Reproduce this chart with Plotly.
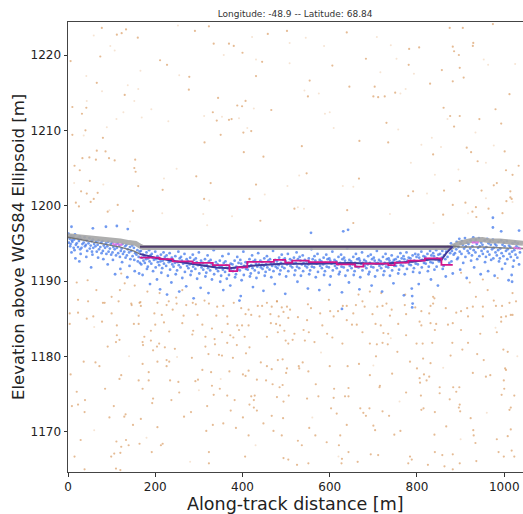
import plotly.graph_objects as go

# ---------------- data ----------------
title_text = "Longitude: -48.9 -- Latitude: 68.84"
x_title = "Along-track distance [m]"
y_title = "Elevation above WGS84 Ellipsoid [m]"
x_ticks = [0, 200, 400, 600, 800, 1000]
y_ticks = [1170, 1180, 1190, 1200, 1210, 1220]

# background (noise) photons, clearly visible
noise_pts = [
    (77.5, 1223.6), (133, 1223.4), (123, 1222.9), (112, 1222.7), (160, 1222.3), (291, 1223.2), (323, 1223.8),
    (458, 1222.8), (502, 1223.2), (334, 1221.5), (369, 1221.5), (380, 1221.2), (400, 1220.3), (74, 1219.8),
    (6, 1219.2), (211, 1219.3), (227, 1218.7), (445, 1219.1), (431, 1217.2), (278, 1217.1), (66, 1216.3),
    (277, 1215.4), (130, 1214.7), (344, 1214.3), (407, 1213.9), (388, 1213.3), (399, 1213.2), (10, 1213.1),
    (42, 1213.0), (466, 1212.7), (332, 1212.4), (32, 1212.2), (369, 1211.4), (375, 1211.5), (341, 1211.3),
    (420, 1209.9), (402, 1209.7), (40, 1210.0), (10, 1209.4), (350, 1209.4), (80, 1209.0), (313, 1208.4),
    (66, 1207.3), (86, 1207.2), (403, 1207.1), (33, 1206.3), (49, 1206.4), (64, 1206.1), (94, 1206.3),
    (107, 1206.0), (154, 1206.1), (448, 1206.5), (15, 1205.3), (152, 1205.0), (27, 1204.7), (155, 1204.5),
    (294, 1203.9), (50, 1203.3), (327, 1203.0), (161, 1202.6), (431, 1202.8), (217, 1202.1), (30, 1201.9),
    (43, 1201.6), (68, 1201.7), (59, 1200.9), (312, 1200.9), (416, 1200.9), (18, 1200.4), (52, 1200.5),
    (25, 1199.9), (114, 1200.1), (91, 1199.2), (149, 1199.3), (441, 1198.0),
    (875, 1223.6), (905, 1223.6), (974, 1224.1), (639, 1223.0), (782, 1220.8), (805, 1221.0), (882, 1221.1),
    (885, 1220.5), (929, 1221.6), (928, 1221.2), (896, 1220.0), (683, 1219.5), (606, 1218.6), (781, 1218.7),
    (898, 1218.3), (857, 1218.0), (907, 1217.0), (554, 1216.6), (830, 1216.2), (882, 1216.5), (645, 1215.8),
    (703, 1215.8), (1012, 1214.8), (550, 1214.5), (700, 1214.5), (711, 1214.4), (726, 1214.5), (750, 1215.0),
    (861, 1213.0), (980, 1212.8), (876, 1211.9), (898, 1211.9), (943, 1211.5), (730, 1211.0), (993, 1210.9),
    (885, 1210.5), (668, 1208.6), (734, 1208.4), (536, 1207.9), (914, 1207.7), (924, 1207.1), (1001, 1207.2),
    (837, 1206.8), (939, 1205.9), (1004, 1204.7), (547, 1204.3), (1019, 1204.1), (1033, 1205.3), (667, 1203.6),
    (898, 1203.3), (983, 1203.0), (976, 1202.7), (862, 1202.0), (791, 1201.9), (948, 1202.0), (1014, 1201.9),
    (780, 1201.3), (1014, 1201.1), (1017, 1200.9), (1005, 1200.6), (911, 1200.4), (882, 1200.1), (935, 1199.8),
    (964, 1199.6), (640, 1199.4), (927, 1199.2), (996, 1199.0), (860, 1198.8), (936, 1198.5), (654, 1197.7),
    (519, 1199.6),
    (122, 1191.0), (130, 1189.7), (45, 1190.1), (20, 1189.8), (65, 1188.8), (119, 1188.8), (100, 1187.9),
    (153, 1189.4), (164, 1187.1), (182, 1188.6), (210, 1188.4), (262, 1188.8), (248, 1187.8), (23, 1187.5),
    (80, 1187.1), (146, 1186.8), (479, 1187.3), (598, 1187.5), (692, 1188.6), (718, 1188.4), (773, 1188.2),
    (837, 1187.9), (666, 1188.2), (901, 1191.1), (951, 1190.2), (985, 1190.4), (921, 1189.8), (962, 1188.8),
    (1019, 1188.4), (840, 1187.7), (935, 1187.9),
    (46, 1187.3), (84, 1187.1), (116, 1187.3), (145, 1187.0), (166, 1187.2), (167, 1186.7), (205, 1187.1),
    (226, 1186.8), (231, 1187.3), (249, 1187.0), (271, 1186.8), (286, 1187.1), (293, 1186.9), (313, 1187.4),
    (323, 1187.0), (342, 1186.6), (356, 1186.7), (380, 1187.1), (397, 1186.4), (414, 1186.2), (435, 1186.7),
    (445, 1186.7), (456, 1187.1), (467, 1186.6), (479, 1187.3), (490, 1186.5), (502, 1186.6), (509, 1186.2),
    (4, 1185.7), (23, 1185.8), (100, 1185.7), (162, 1185.4), (198, 1185.7), (215, 1185.5), (240, 1186.2),
    (265, 1185.4), (297, 1185.5), (340, 1185.4), (365, 1185.3), (407, 1185.6), (420, 1185.5), (439, 1185.3),
    (464, 1185.6), (483, 1185.3), (494, 1185.9), (505, 1185.1), (43, 1185.0), (58, 1185.3), (78, 1184.6),
    (112, 1184.1), (151, 1184.3), (162, 1184.3), (200, 1184.2), (220, 1184.5), (262, 1184.4), (308, 1184.2),
    (366, 1184.3), (388, 1184.1), (399, 1184.1), (414, 1184.1), (465, 1184.4), (477, 1184.3), (486, 1184.1),
    (4, 1184.3), (190, 1183.4), (232, 1183.3), (287, 1183.4), (330, 1183.7), (353, 1183.2), (392, 1183.5),
    (496, 1183.4), (112, 1182.8), (175, 1182.6), (285, 1182.9), (315, 1182.6), (372, 1182.8), (405, 1182.6),
    (456, 1182.6), (481, 1183.2), (118, 1182.2), (110, 1181.9), (171, 1181.9), (190, 1182.1), (336, 1182.3),
    (379, 1182.5), (499, 1182.1), (515, 1182.2), (91, 1181.3), (172, 1181.5), (204, 1181.3), (209, 1181.7),
    (222, 1181.2), (245, 1181.0), (315, 1181.3), (337, 1181.6), (365, 1181.8), (387, 1181.5), (416, 1181.2),
    (505, 1181.7), (195, 1180.8), (408, 1180.4), (322, 1180.3), (346, 1180.2), (353, 1180.1), (378, 1179.8),
    (481, 1179.5), (492, 1179.6), (36, 1179.3), (63, 1179.2), (205, 1179.3), (226, 1179.5), (232, 1179.3),
    (226, 1178.7), (284, 1179.8), (72, 1178.7), (171, 1179.0), (442, 1179.2), (456, 1178.7), (467, 1178.3),
    (308, 1178.2), (370, 1178.0), (414, 1178.1), (502, 1178.4), (500, 1177.8), (6, 1177.6), (122, 1177.5),
    (185, 1177.9), (328, 1177.9), (401, 1177.6), (407, 1177.4), (118, 1177.0), (162, 1176.8), (185, 1176.8),
    (234, 1176.8), (253, 1176.6), (292, 1176.7), (298, 1176.9), (433, 1176.9), (454, 1176.8), (469, 1176.3),
    (330, 1176.1), (348, 1175.7), (492, 1176.2), (485, 1175.9), (85, 1175.7), (171, 1175.7), (20, 1175.3),
    (255, 1175.2), (334, 1174.9), (365, 1174.8), (420, 1174.7), (428, 1174.8), (479, 1174.6), (506, 1174.8),
    (39, 1174.2), (195, 1174.4), (193, 1173.8), (237, 1174.2), (382, 1174.2), (426, 1174.2), (426, 1173.2),
    (494, 1174.0), (23, 1173.6), (9, 1173.4), (105, 1173.4), (319, 1173.4), (416, 1173.6), (433, 1172.8),
    (38, 1172.6), (282, 1172.6), (373, 1172.8), (132, 1172.3), (129, 1172.0), (95, 1171.9), (167, 1171.7),
    (266, 1172.0), (401, 1171.9), (467, 1172.1), (493, 1171.8), (356, 1171.1), (149, 1170.9), (205, 1170.6),
    (332, 1170.9), (448, 1171.1), (385, 1170.5), (29, 1168.9), (111, 1168.7), (133, 1168.9), (139, 1168.2),
    (164, 1168.4), (213, 1168.2), (217, 1168.4), (122, 1168.0), (414, 1169.5), (471, 1170.1), (490, 1169.5),
    (317, 1170.1), (15, 1166.7), (99, 1166.7), (106, 1167.1), (120, 1167.2), (192, 1167.3), (323, 1167.3),
    (406, 1166.7), (494, 1166.5), (505, 1166.3), (323, 1165.8), (110, 1165.1), (120, 1164.9), (38, 1165.0),
    (550, 1186.9), (557, 1186.4), (601, 1186.0), (619, 1186.0), (630, 1186.7), (639, 1186.7), (654, 1185.7),
    (660, 1186.8), (675, 1187.3), (680, 1186.6), (698, 1185.6), (709, 1186.6), (721, 1186.7), (730, 1187.0),
    (738, 1185.4), (742, 1186.2), (772, 1186.8), (775, 1185.6), (796, 1186.5), (810, 1186.0), (828, 1185.7),
    (831, 1186.7), (837, 1187.0), (866, 1186.4), (890, 1185.8), (915, 1186.4), (928, 1186.6), (951, 1186.6),
    (976, 1187.4), (981, 1186.7), (995, 1186.7), (1012, 1187.1), (1027, 1187.3), (1019, 1185.5), (1004, 1185.3),
    (993, 1184.6), (951, 1185.3), (917, 1185.3), (901, 1186.0), (527, 1185.2), (548, 1184.8), (578, 1185.7),
    (609, 1185.3), (639, 1184.8), (651, 1184.2), (583, 1184.1), (540, 1183.5), (552, 1183.2), (594, 1183.0),
    (662, 1184.2), (675, 1183.2), (705, 1184.3), (717, 1184.1), (723, 1183.1), (734, 1183.0), (757, 1184.3),
    (775, 1182.8), (806, 1184.6), (810, 1184.1), (831, 1184.4), (841, 1183.5), (844, 1184.3), (871, 1184.2),
    (882, 1184.4), (901, 1183.5), (945, 1183.0), (993, 1185.2), (1015, 1185.5), (983, 1183.2), (519, 1183.0),
    (543, 1182.1), (565, 1181.9), (606, 1182.5), (629, 1181.7), (692, 1181.7), (708, 1181.6), (721, 1181.8),
    (733, 1181.6), (799, 1181.7), (813, 1181.7), (835, 1181.8), (881, 1181.8), (917, 1181.8), (998, 1180.9),
    (1008, 1180.6), (755, 1180.6), (904, 1180.9), (938, 1180.3), (877, 1180.1), (784, 1179.3), (814, 1179.7),
    (831, 1179.1), (953, 1179.5), (538, 1179.2), (529, 1178.7), (530, 1178.4), (551, 1178.0), (600, 1178.7),
    (641, 1178.7), (667, 1179.0), (706, 1180.0), (743, 1177.7), (692, 1177.5), (800, 1178.4), (816, 1177.6),
    (806, 1177.1), (822, 1176.8), (828, 1177.3), (807, 1176.5), (928, 1177.8), (958, 1177.3), (968, 1177.5),
    (1002, 1178.4), (1004, 1178.2), (999, 1176.8), (568, 1176.3), (610, 1175.7), (643, 1175.8), (715, 1176.1),
    (714, 1175.9), (852, 1175.9), (883, 1175.9), (897, 1175.9), (775, 1175.2), (852, 1175.1), (890, 1175.3),
    (1000, 1175.7), (548, 1174.4), (574, 1174.7), (609, 1174.5), (635, 1174.7), (643, 1174.7), (809, 1174.8),
    (875, 1174.3), (898, 1173.6), (994, 1174.9), (1023, 1174.8), (603, 1173.1), (670, 1173.1), (691, 1173.1),
    (677, 1172.5), (683, 1172.1), (616, 1172.4), (721, 1172.7), (736, 1172.1), (810, 1172.9), (815, 1173.1),
    (841, 1172.6), (896, 1173.2), (899, 1172.7), (923, 1171.8), (1015, 1173.2), (1012, 1172.9), (700, 1170.8),
    (704, 1170.2), (639, 1170.9), (553, 1170.5), (567, 1169.5), (624, 1169.5), (748, 1169.6), (762, 1170.1),
    (840, 1169.6), (867, 1170.7), (929, 1170.2), (930, 1169.5), (983, 1169.0), (1008, 1169.4), (1015, 1170.3),
    (527, 1168.8), (536, 1168.2), (593, 1168.6), (621, 1168.2), (643, 1167.3), (694, 1167.0), (711, 1166.9),
    (784, 1166.7), (788, 1166.3), (841, 1167.3), (882, 1167.0), (934, 1168.5), (858, 1166.9), (987, 1167.3),
    (999, 1166.7), (1017, 1167.5), (1023, 1166.7), (628, 1166.4), (627, 1165.8), (664, 1166.0), (551, 1165.8),
    (780, 1165.8), (825, 1165.6), (898, 1165.8), (936, 1166.1), (882, 1165.0), (863, 1165.4), (525, 1165.6),
]

# background photons, faint
noise_faint_pts = [
    (252, 1223.9), (59, 1222.6), (422, 1222.4), (508, 1221.6), (97, 1221.2), (107, 1220.6), (357, 1220.0),
    (431, 1219.4), (166, 1217.9), (255, 1217.3), (42, 1217.2), (137, 1216.0), (161, 1215.5), (78, 1215.2),
    (43, 1213.9), (152, 1213.9), (127, 1212.4), (191, 1212.8), (169, 1211.7), (111, 1211.5), (230, 1211.2),
    (312, 1211.9), (353, 1211.8), (392, 1211.6), (426, 1212.9), (89, 1210.4), (411, 1210.3), (36, 1209.3),
    (249, 1204.9), (220, 1203.6), (14, 1203.0), (81, 1202.8), (451, 1201.5), (324, 1200.7), (95, 1199.4),
    (216, 1199.0), (310, 1198.9), (376, 1198.6), (142, 1197.9), (319, 1197.4), (508, 1218.9), (503, 1202.6),
    (545, 1222.3), (587, 1221.2), (708, 1222.4), (740, 1221.3), (753, 1219.5), (953, 1219.4), (963, 1218.7),
    (1025, 1218.8), (716, 1217.7), (793, 1217.5), (542, 1215.3), (575, 1214.9), (774, 1215.5), (762, 1214.9),
    (589, 1212.2), (600, 1212.4), (870, 1211.5), (934, 1209.7), (609, 1210.3), (757, 1210.1), (834, 1209.0),
    (855, 1207.8), (810, 1208.1), (976, 1208.0), (786, 1205.7), (958, 1205.7), (895, 1204.8), (841, 1204.1),
    (530, 1204.0), (630, 1202.6), (654, 1202.5), (823, 1201.6), (958, 1201.0), (1019, 1200.5), (541, 1199.6),
    (738, 1198.9), (917, 1199.0), (838, 1197.7), (527, 1199.8),
    (60, 1183.9), (140, 1180.0), (250, 1179.9), (300, 1175.5), (60, 1170.2), (180, 1169.2), (280, 1166.0),
    (430, 1168.2), (580, 1180.5), (700, 1178.8), (760, 1174.0), (860, 1178.5), (960, 1172.5), (1030, 1180.0),
    (620, 1166.7), (740, 1182.4), (980, 1183.8), (560, 1171.9), (900, 1169.0), (350, 1177.0),
]

# signal photons (along-track distance, elevation)
signal_pts = [
    (1, 1196.3), (4, 1195.6), (2, 1195.1), (5, 1194.6), (7, 1196.0), (9, 1195.4), (6, 1194.9), (8, 1193.8),
    (12, 1195.9), (10, 1195.2), (13, 1194.4), (16, 1196.2), (14, 1195.5), (18, 1194.8), (15, 1194.1), (17, 1193.0),
    (22, 1195.7), (20, 1195.0), (23, 1194.5), (27, 1195.9), (25, 1195.3), (28, 1194.2), (26, 1192.6),
    (30, 1195.6), (33, 1194.9), (31, 1194.4), (29, 1193.6), (38, 1195.8), (36, 1195.1), (39, 1194.6),
    (43, 1195.4), (41, 1194.8), (44, 1194.0), (42, 1193.2), (49, 1195.7), (47, 1195.0), (50, 1194.3),
    (54, 1195.3), (52, 1194.7), (55, 1193.9), (53, 1191.8), (57, 1195.5), (60, 1194.9), (58, 1194.4), (56, 1193.5),
    (65, 1195.2), (63, 1194.6), (66, 1193.9), (70, 1195.4), (68, 1194.8), (71, 1194.2), (69, 1193.1),
    (76, 1195.1), (74, 1194.5), (77, 1193.7), (79, 1195.3), (82, 1194.7), (80, 1194.0), (81, 1192.9),
    (87, 1195.0), (85, 1194.4), (88, 1193.6), (92, 1195.2), (90, 1194.6), (93, 1193.9), (91, 1192.2),
    (98, 1194.9), (96, 1194.3), (99, 1193.5), (101, 1195.1), (104, 1194.5), (102, 1193.8), (103, 1192.8),
    (109, 1194.8), (107, 1194.2), (110, 1193.4), (108, 1190.9), (114, 1195.0), (112, 1194.4), (115, 1193.7),
    (118, 1194.7), (121, 1194.0), (119, 1193.2), (120, 1191.6), (125, 1194.9), (123, 1194.3), (126, 1193.6),
    (124, 1192.5), (131, 1194.6), (129, 1193.9), (132, 1193.1), (134, 1194.8), (137, 1194.2), (135, 1193.4),
    (136, 1190.5), (142, 1194.5), (140, 1193.8), (143, 1192.9), (141, 1192.0), (147, 1194.7), (145, 1194.0),
    (148, 1193.3), (151, 1194.4), (154, 1193.7), (152, 1192.8), (153, 1191.3), (159, 1194.1), (157, 1193.5),
    (160, 1192.6), (164, 1193.9), (162, 1193.2), (165, 1192.4), (163, 1191.0),
    (167, 1194.0), (172, 1193.5), (169, 1193.1), (173, 1192.7), (168, 1192.2), (171, 1190.8),
    (180, 1193.8), (175, 1193.3), (179, 1192.9), (176, 1192.4), (181, 1191.6),
    (186, 1194.1), (189, 1193.4), (184, 1193.0), (187, 1192.6), (183, 1191.9), (188, 1189.6),
    (192, 1193.6), (194, 1193.1), (197, 1192.8), (191, 1192.3), (195, 1191.3),
    (200, 1193.9), (205, 1193.3), (202, 1192.9), (206, 1192.5), (201, 1191.8), (204, 1190.2),
    (213, 1193.5), (208, 1193.0), (212, 1192.6), (209, 1192.1), (214, 1191.1), (211, 1188.9),
    (219, 1193.8), (222, 1193.2), (217, 1192.7), (220, 1192.3), (216, 1191.7),
    (226, 1193.4), (228, 1192.9), (231, 1192.5), (225, 1192.0), (229, 1190.7), (227, 1188.2),
    (233, 1193.7), (238, 1193.1), (235, 1192.6), (239, 1192.2), (234, 1191.5), (237, 1189.8),
    (246, 1193.3), (241, 1192.8), (245, 1192.4), (242, 1191.9), (247, 1190.9),
    (253, 1193.9), (256, 1193.0), (251, 1192.5), (254, 1192.1), (250, 1191.4), (255, 1188.6),
    (259, 1193.2), (261, 1192.7), (264, 1192.3), (258, 1191.8), (262, 1190.4),
    (267, 1193.6), (272, 1192.9), (269, 1192.4), (273, 1192.0), (268, 1191.2), (271, 1189.3),
    (280, 1193.1), (275, 1192.6), (279, 1192.2), (276, 1191.7), (281, 1190.8),
    (286, 1193.5), (289, 1192.8), (284, 1192.3), (287, 1191.9), (283, 1191.3), (288, 1187.7),
    (293, 1193.0), (295, 1192.5), (298, 1192.1), (292, 1191.6), (296, 1190.3),
    (300, 1193.8), (305, 1192.7), (302, 1192.2), (306, 1191.8), (301, 1191.0), (304, 1189.1),
    (314, 1192.9), (309, 1192.4), (313, 1192.0), (310, 1191.5), (315, 1190.6),
    (320, 1193.4), (323, 1192.6), (318, 1192.1), (321, 1191.7), (317, 1191.1), (322, 1188.4),
    (327, 1192.8), (329, 1192.3), (332, 1191.9), (326, 1191.4), (330, 1190.2),
    (334, 1194.1), (339, 1192.5), (336, 1192.0), (340, 1191.6), (335, 1190.9),
    (348, 1192.7), (343, 1192.2), (347, 1191.8), (344, 1191.3), (349, 1189.9),
    (354, 1193.3), (357, 1192.4), (352, 1191.9), (355, 1191.5), (351, 1190.7), (356, 1188.8),
    (361, 1192.6), (363, 1192.1), (366, 1191.7), (360, 1191.2), (364, 1190.3),
    (368, 1193.6), (373, 1192.3), (370, 1191.8), (374, 1191.4), (369, 1190.8), (372, 1189.4),
    (382, 1192.7), (377, 1192.2), (381, 1191.7), (378, 1191.3), (383, 1190.5),
    (388, 1193.2), (391, 1192.4), (386, 1191.9), (389, 1191.5), (385, 1190.9),
    (395, 1192.8), (397, 1192.3), (400, 1191.8), (394, 1191.4), (398, 1190.1), (396, 1188.0),
    (402, 1193.9), (407, 1192.5), (404, 1192.0), (408, 1191.6), (403, 1190.8),
    (416, 1192.9), (411, 1192.4), (415, 1191.9), (412, 1191.5), (417, 1190.6),
    (422, 1193.4), (425, 1192.6), (420, 1192.1), (423, 1191.7), (419, 1191.0), (424, 1189.2),
    (429, 1192.8), (431, 1192.3), (434, 1191.9), (428, 1191.4), (432, 1190.4),
    (436, 1193.7), (441, 1192.7), (438, 1192.2), (442, 1191.8), (437, 1191.1),
    (450, 1193.0), (445, 1192.5), (449, 1192.0), (446, 1191.6), (451, 1190.7), (448, 1188.7),
    (456, 1193.3), (459, 1192.7), (454, 1192.2), (457, 1191.8), (453, 1191.2),
    (463, 1192.9), (465, 1192.4), (468, 1192.0), (462, 1191.5), (466, 1190.5),
    (470, 1194.0), (475, 1192.8), (472, 1192.3), (476, 1191.9), (471, 1191.3), (474, 1189.6),
    (484, 1193.1), (479, 1192.6), (483, 1192.1), (480, 1191.7), (485, 1190.9),
    (490, 1193.5), (493, 1192.8), (488, 1192.4), (491, 1191.9), (487, 1191.4),
    (497, 1193.0), (499, 1192.6), (502, 1192.2), (496, 1191.7), (500, 1190.6), (498, 1188.3),
    (504, 1193.6), (509, 1192.9), (506, 1192.4), (510, 1192.0), (505, 1191.3),
    (518, 1193.1), (513, 1192.7), (517, 1192.3), (514, 1191.8), (519, 1190.8),
    (524, 1193.8), (527, 1192.9), (522, 1192.4), (525, 1191.9), (521, 1191.4), (526, 1189.9),
    (531, 1193.2), (533, 1192.7), (536, 1192.2), (530, 1191.7), (534, 1190.7),
    (538, 1193.4), (543, 1192.8), (540, 1192.4), (544, 1192.0), (539, 1191.3),
    (552, 1193.0), (547, 1192.6), (551, 1192.2), (548, 1191.8), (553, 1190.9), (550, 1189.0),
    (558, 1194.2), (561, 1192.9), (556, 1192.4), (559, 1191.9), (555, 1191.4), (557, 1196.4),
    (565, 1193.3), (567, 1192.7), (570, 1192.3), (564, 1191.8), (568, 1190.5),
    (572, 1193.6), (577, 1192.8), (574, 1192.4), (578, 1192.0), (573, 1191.2), (576, 1188.8),
    (586, 1193.1), (581, 1192.6), (585, 1192.2), (582, 1191.7), (587, 1190.8),
    (592, 1193.5), (595, 1192.9), (590, 1192.4), (593, 1191.9), (589, 1191.3),
    (599, 1193.0), (601, 1192.7), (604, 1192.3), (598, 1191.8), (602, 1190.6), (600, 1189.5),
    (606, 1193.9), (611, 1192.8), (608, 1192.4), (612, 1192.0), (607, 1191.4),
    (620, 1193.2), (615, 1192.6), (619, 1192.2), (616, 1191.7), (621, 1190.9),
    (626, 1193.5), (629, 1192.9), (624, 1192.4), (627, 1191.9), (623, 1191.2), (628, 1188.5),
    (633, 1193.1), (635, 1192.7), (638, 1192.3), (632, 1191.8), (636, 1190.7), (631, 1196.6),
    (640, 1194.3), (645, 1192.8), (642, 1192.4), (646, 1192.0), (641, 1191.4), (644, 1189.8),
    (654, 1193.2), (649, 1192.6), (653, 1192.2), (650, 1191.7), (655, 1190.8),
    (660, 1193.6), (663, 1192.9), (658, 1192.4), (661, 1191.9), (657, 1191.3),
    (667, 1193.0), (669, 1192.7), (672, 1192.3), (666, 1191.8), (670, 1190.5), (668, 1188.9),
    (674, 1193.8), (679, 1192.8), (676, 1192.4), (680, 1192.0), (675, 1191.4),
    (688, 1193.3), (683, 1192.6), (687, 1192.2), (684, 1191.7), (689, 1190.9),
    (694, 1193.5), (697, 1192.9), (692, 1192.4), (695, 1191.9), (691, 1191.2), (696, 1189.4),
    (701, 1193.1), (703, 1192.7), (706, 1192.3), (700, 1191.8), (704, 1190.6),
    (708, 1194.0), (713, 1192.8), (710, 1192.4), (714, 1192.0), (709, 1191.4),
    (722, 1193.2), (717, 1192.6), (721, 1192.2), (718, 1191.7), (723, 1190.8), (720, 1188.6),
    (728, 1193.6), (731, 1192.9), (726, 1192.4), (729, 1191.9), (725, 1191.3),
    (735, 1193.0), (737, 1192.7), (740, 1192.3), (734, 1191.8), (738, 1190.7),
    (742, 1193.4), (747, 1192.8), (744, 1192.5), (748, 1192.0), (743, 1191.4), (746, 1189.7),
    (756, 1193.2), (751, 1192.9), (755, 1192.5), (752, 1192.0), (757, 1191.0),
    (762, 1193.7), (765, 1193.0), (760, 1192.6), (763, 1192.1), (759, 1191.5),
    (769, 1193.3), (771, 1192.9), (774, 1192.5), (768, 1192.0), (772, 1190.9), (770, 1188.1),
    (776, 1193.8), (781, 1193.1), (778, 1192.7), (782, 1192.2), (777, 1191.6),
    (790, 1193.4), (785, 1193.0), (789, 1192.6), (786, 1192.1), (791, 1191.2), (788, 1189.0), (789, 1188.0),
    (790, 1187.0), (789, 1186.5),
    (796, 1193.6), (799, 1193.2), (794, 1192.7), (797, 1192.3), (793, 1191.7),
    (803, 1193.5), (805, 1193.1), (808, 1192.7), (802, 1192.2), (806, 1191.1), (804, 1189.6),
    (810, 1193.9), (815, 1193.3), (812, 1192.8), (816, 1192.4), (811, 1191.8),
    (824, 1193.6), (819, 1193.2), (823, 1192.8), (820, 1192.3), (825, 1191.3),
    (830, 1194.0), (833, 1193.4), (828, 1192.9), (831, 1192.5), (827, 1191.9), (832, 1190.2),
    (837, 1193.7), (839, 1193.3), (842, 1192.9), (836, 1192.4), (840, 1191.5),
    (844, 1194.1), (849, 1193.5), (846, 1193.0), (850, 1192.6), (845, 1191.9), (848, 1189.4),
    (858, 1194.0), (853, 1193.6), (857, 1193.1), (854, 1192.6), (859, 1191.6),
    (864, 1194.3), (867, 1193.9), (862, 1193.4), (865, 1192.9), (861, 1192.0), (866, 1190.6),
    (871, 1194.6), (873, 1194.2), (876, 1193.7), (870, 1193.2), (874, 1192.4),
    (878, 1195.0), (883, 1194.5), (880, 1194.0), (884, 1193.5), (879, 1192.6), (882, 1191.0),
    (891, 1195.2), (886, 1194.7), (890, 1194.2), (887, 1193.7), (892, 1192.9),
    (897, 1195.6), (900, 1195.0), (895, 1194.5), (898, 1193.9), (894, 1193.1), (899, 1191.5),
    (903, 1195.3), (905, 1194.8), (908, 1194.3), (902, 1193.6), (906, 1192.4),
    (910, 1195.7), (915, 1195.1), (912, 1194.6), (916, 1194.0), (911, 1193.2), (914, 1190.4),
    (923, 1195.4), (918, 1194.9), (922, 1194.3), (919, 1193.7), (924, 1192.7),
    (929, 1195.8), (932, 1195.2), (927, 1194.6), (930, 1194.1), (926, 1193.4), (931, 1191.8),
    (935, 1195.5), (937, 1194.9), (940, 1194.4), (934, 1193.8), (938, 1192.9),
    (942, 1195.7), (947, 1195.1), (944, 1194.6), (948, 1194.0), (943, 1193.3), (946, 1190.9),
    (955, 1195.4), (950, 1194.8), (954, 1194.3), (951, 1193.6), (956, 1192.5),
    (961, 1195.6), (964, 1195.0), (959, 1194.5), (962, 1193.9), (958, 1193.2), (963, 1191.3),
    (967, 1195.3), (969, 1194.8), (972, 1194.2), (966, 1193.5), (970, 1192.8),
    (974, 1195.5), (979, 1194.9), (976, 1194.4), (980, 1193.8), (975, 1193.0), (978, 1190.7),
    (987, 1195.2), (982, 1194.7), (986, 1194.1), (983, 1193.4), (988, 1192.6),
    (993, 1195.4), (996, 1194.8), (991, 1194.3), (994, 1193.7), (990, 1193.0), (995, 1191.6),
    (999, 1195.1), (1001, 1194.6), (1004, 1194.0), (998, 1193.3), (1002, 1192.3),
    (1006, 1195.3), (1011, 1194.7), (1008, 1194.2), (1012, 1193.6), (1007, 1192.9), (1010, 1190.1),
    (1019, 1195.0), (1014, 1194.5), (1018, 1193.9), (1015, 1193.2), (1020, 1191.9), (1017, 1190.8),
    (1018, 1189.9),
    (1025, 1195.2), (1028, 1194.6), (1023, 1194.1), (1026, 1193.5), (1022, 1192.7),
    (1031, 1195.0), (1033, 1194.4), (1036, 1193.8), (1030, 1193.1), (1034, 1192.2),
    (8, 1197.2), (57, 1197.0), (87, 1197.2), (112, 1197.3), (137, 1196.9), (642, 1196.8), (974, 1198.4),
    (974, 1197.1), (993, 1196.6), (1034, 1196.7), (393, 1187.4), (628, 1186.3),
]

# surface photon band (gray)
surf_x = [0, 20, 40, 60, 80, 100, 120, 140, 155, 166, 172, 300, 500, 700, 878, 886, 896, 910, 930, 950, 970,
          990, 1010, 1043]
surf_y = [1196.0, 1195.9, 1195.8, 1195.6, 1195.5, 1195.4, 1195.3, 1195.1, 1195.0, 1194.6, 1194.45, 1194.45,
          1194.45, 1194.45, 1194.45, 1194.7, 1195.0, 1195.2, 1195.45, 1195.5, 1195.3, 1195.3, 1195.2, 1195.0]

# ground estimate outside the pond (dark gray)
ground_left_x = [0, 40, 80, 120, 150, 164]
ground_left_y = [1195.8, 1195.4, 1195.0, 1194.5, 1194.0, 1193.6]
ground_right_x = [882, 900, 950, 1000, 1043]
ground_right_y = [1194.6, 1194.5, 1194.5, 1194.4, 1194.3]

# pond bottom, smooth (purple-blue)
bottom_x = [164, 200, 250, 300, 340, 370, 415, 491, 567, 643, 719, 795, 833, 856, 867, 882]
bottom_y = [1193.6, 1193.1, 1192.6, 1192.1, 1191.8, 1191.7, 1192.0, 1192.3, 1192.3, 1192.4, 1192.3, 1192.6,
            1192.9, 1192.8, 1193.7, 1194.6]

# pond bottom, binned (magenta steps)
step_x = [164, 210, 240, 286, 332, 370, 388, 411, 472, 498, 514, 552, 616, 658, 677, 734, 749, 780, 818, 856, 882]
step_y = [1193.1, 1192.9, 1192.6, 1192.4, 1192.1, 1191.3, 1191.8, 1192.55, 1192.8, 1192.45, 1192.7, 1192.5,
          1192.2, 1191.9, 1192.3, 1192.1, 1192.45, 1192.7, 1193.0, 1192.15, 1192.15]

# water surface
water_x = [165, 880]
water_y = [1194.55, 1194.55]

# small pink marks on the surface band
pink_x = [104, 110, 116, 122, 928, 934, 939, 1024, 1030, 1036]
pink_y = [1194.9, 1194.85, 1194.85, 1194.8, 1195.1, 1195.1, 1195.1, 1194.4, 1194.35, 1194.3]

# ---------------- figure ----------------
fig = go.Figure()
fig.add_trace(go.Scatter(x=[p[0] for p in noise_faint_pts], y=[p[1] for p in noise_faint_pts], mode="markers",
                         marker=dict(size=2, color="rgba(225,165,110,0.3)", line=dict(width=0)), hoverinfo="skip"))
fig.add_trace(go.Scatter(x=[p[0] for p in noise_pts], y=[p[1] for p in noise_pts], mode="markers",
                         marker=dict(size=2.2, color="rgba(215,150,90,0.65)", line=dict(width=0)), hoverinfo="skip"))
fig.add_trace(go.Scatter(x=[p[0] for p in signal_pts], y=[p[1] for p in signal_pts], mode="markers",
                         marker=dict(size=2.8, color="rgba(65,120,235,0.75)", line=dict(width=0)), hoverinfo="skip"))
fig.add_trace(go.Scatter(x=surf_x, y=surf_y, mode="lines",
                         line=dict(color="rgba(165,165,165,0.9)", width=5), hoverinfo="skip"))
fig.add_trace(go.Scatter(x=ground_left_x, y=ground_left_y, mode="lines",
                         line=dict(color="rgba(110,110,110,0.9)", width=1.5), hoverinfo="skip"))
fig.add_trace(go.Scatter(x=ground_right_x, y=ground_right_y, mode="lines",
                         line=dict(color="rgba(120,120,120,0.9)", width=1.5), hoverinfo="skip"))
fig.add_trace(go.Scatter(x=pink_x, y=pink_y, mode="markers",
                         marker=dict(size=2.5, color="rgba(225,110,225,0.9)"), hoverinfo="skip"))
fig.add_trace(go.Scatter(x=water_x, y=water_y, mode="lines",
                         line=dict(color="#4e3b6c", width=2.2), hoverinfo="skip"))
fig.add_trace(go.Scatter(x=bottom_x, y=bottom_y, mode="lines",
                         line=dict(color="#3f3a9a", width=2), hoverinfo="skip"))
fig.add_trace(go.Scatter(x=step_x, y=step_y, mode="lines", line_shape="hv",
                         line=dict(color="#d3158a", width=1.8), hoverinfo="skip"))

axis_common = dict(showgrid=False, zeroline=False, ticks="outside", ticklen=3.5, tickwidth=1,
                   tickcolor="#333", linecolor="#444", linewidth=1, showline=True,
                   tickfont=dict(family="DejaVu Sans", size=12, color="#222"))
fig.update_layout(
    width=523, height=514,
    margin=dict(l=68, r=0, t=22, b=42),
    paper_bgcolor="white", plot_bgcolor="white",
    showlegend=False,
    font=dict(family="DejaVu Sans", color="#222"),
    title=dict(text=title_text, x=0.5642, xanchor="center", y=0.973, yanchor="middle",
               font=dict(family="DejaVu Sans", size=9, color="#333")),
    xaxis=dict(range=[0, 1043], tickvals=x_ticks, mirror=True, **axis_common),
    yaxis=dict(range=[1164.65, 1224.38], tickvals=y_ticks, mirror=False, **axis_common),
    annotations=[
        dict(text=x_title, xref="paper", yref="paper", x=0.501, y=-0.07, xanchor="center", yanchor="middle",
             showarrow=False, font=dict(family="DejaVu Sans", size=17.5, color="#222")),
        dict(text=y_title, xref="paper", yref="paper", x=-0.110, y=0.5, xanchor="center", yanchor="middle",
             textangle=-90, showarrow=False, font=dict(family="DejaVu Sans", size=16.5, color="#222")),
    ],
)
fig.write_html("out.html")
